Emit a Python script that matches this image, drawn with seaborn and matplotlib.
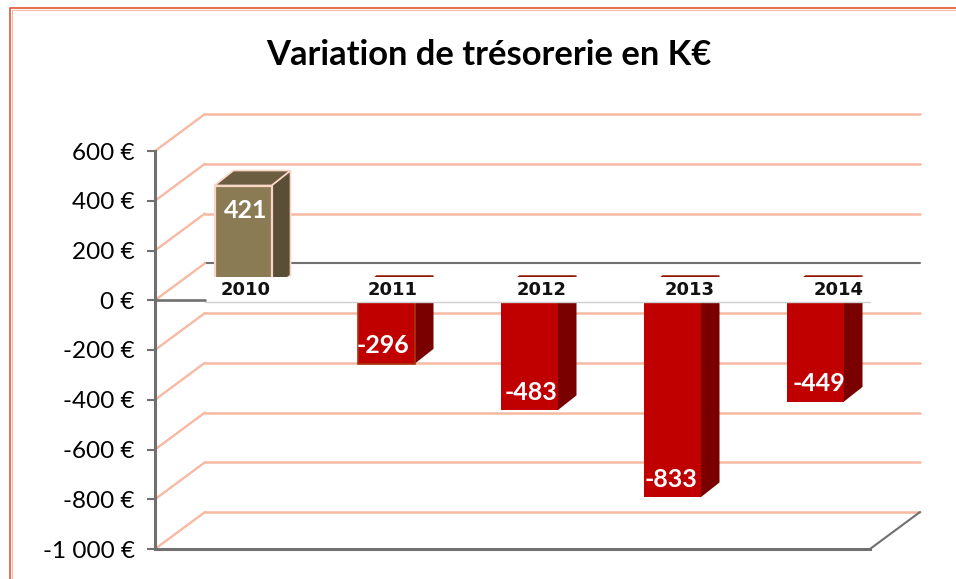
#! /usr/bin/env python
from matplotlib.patches import Polygon, Rectangle
from matplotlib.transforms import Affine2D
import matplotlib.pyplot as plt
import seaborn as sns

WIDTH, HEIGHT = 956, 579

years = ['2010', '2011', '2012', '2013', '2014']
values = [421, -296, -483, -833, -449]
y_ticks = [600, 400, 200, 0, -200, -400, -600, -800, -1000]
y_labels = ['600 €', '400 €', '200 €', '0 €', '-200 €', '-400 €', '-600 €', '-800 €', '-1 000 €']
title = 'Variation de trésorerie en K€'

SALMON = '#F7B9A3'
GREY = '#707070'


def shift(ax, dx, dy):
    # dx, dy in pixels, y going up
    return ax.transData + Affine2D().translate(dx, dy)


def main():
    sns.set_theme(style='white')
    plt.rcParams['font.family'] = ['Lato', 'DejaVu Sans']

    fig = plt.figure(figsize=(WIDTH / 100, HEIGHT / 100), dpi=100)
    ax = fig.add_axes([155 / WIDTH, (HEIGHT - 549) / HEIGHT, 715 / WIDTH, 398 / HEIGHT])
    ax.patch.set_alpha(0)

    px = Affine2D().scale(1, -1).translate(0, HEIGHT)  # image pixel coords

    palette = ['#8B7B55' if v > 0 else '#C00000' for v in values]
    sns.barplot(x=years, y=values, hue=years, palette=palette, legend=False,
                width=57 / 143, saturation=1, linewidth=0, ax=ax, zorder=3)
    ax.set_xlim(-0.5, 4.5)
    ax.set_ylim(-1000, 600)

    # back wall and left wall grid
    wall_x = 50 / 143
    wall_y = 37 / (398 / 1600)
    for tick in y_ticks:
        colour = GREY if tick == 0 else SALMON
        ax.plot([-0.5, 4.5], [tick, tick], color=colour, lw=1.5 if tick == 0 else 1.8,
                transform=shift(ax, 50, 37), clip_on=False, zorder=1)
        ax.plot([-0.5, -0.5 + wall_x], [tick, tick + wall_y], color=SALMON, lw=1.7,
                clip_on=False, zorder=2)
    ax.plot([4.5, 4.5 + wall_x], [-1000, -1000 + wall_y], color=GREY, lw=1.5,
            clip_on=False, zorder=2)

    # bars: move the front faces into the depth, add side and top faces
    depth_x = 19 / 143
    depth_y = 15 / (398 / 1600)
    moved = shift(ax, 16.5, 10)
    label_dx = [19, 13, 18, 15, 20]
    for i, (bar, value) in enumerate(zip(ax.patches, values)):
        bar.set_transform(moved)
        bar.set_clip_on(False)
        left = bar.get_x()
        right = left + bar.get_width()
        low, high = min(value, 0), max(value, 0)
        positive = value > 0
        side = '#5A4E36' if positive else '#7A0000'
        top = '#6B5D3F' if positive else '#8E1400'
        if positive:
            bar.set_edgecolor('#F9D6C8')
            bar.set_linewidth(1.6)
        elif i == 1:
            bar.set_edgecolor('#A5350F')
            bar.set_linewidth(1.2)
        edge = '#F9D6C8' if positive else 'none'
        ax.add_patch(Polygon([(right, low), (right + depth_x, low + depth_y),
                              (right + depth_x, high + depth_y), (right, high)],
                             facecolor=side, edgecolor=edge, lw=1.2, transform=moved,
                             clip_on=False, zorder=2.9))
        ax.add_patch(Polygon([(left, high), (left + depth_x, high + depth_y),
                              (right + depth_x, high + depth_y), (right, high)],
                             facecolor=top, edgecolor=edge, lw=1.2, transform=moved,
                             clip_on=False, zorder=2.9))
        ax.annotate(str(value), (i, value), xytext=(label_dx[i], -15 if positive else 28),
                    textcoords='offset pixels', ha='center', va='center', color='white',
                    fontsize=18, fontweight='bold', zorder=8)

    # white band holding the year labels
    ax.add_patch(Rectangle((205, 277), 665, 25, facecolor='white', edgecolor='none',
                           transform=px, clip_on=False, zorder=5))
    ax.plot([205, 870], [302, 302], color='#CFCFCF', lw=1, transform=px, clip_on=False, zorder=6)
    ax.plot([-0.5, -0.5 + wall_x], [0, 0], color=GREY, lw=1.9, clip_on=False, zorder=6)
    year_dx = [19.5, 23.5, 29.5, 34.5, 40.5]
    for i, year in enumerate(years):
        ax.annotate(year, (i, 0), xytext=(year_dx[i], 10), textcoords='offset pixels',
                    ha='center', va='center', color='#111111', fontsize=13,
                    fontweight='bold', family='DejaVu Sans', zorder=7)

    ax.set_xticks([])
    ax.set_xlabel('')
    ax.set_yticks(y_ticks, y_labels)
    ax.tick_params(axis='y', left=True, length=5.5, width=1.5, color=GREY, pad=9,
                   labelsize=17.5, labelcolor='black')
    for name, spine in ax.spines.items():
        spine.set_visible(name in ('left', 'bottom'))
        spine.set_color(GREY)
        spine.set_linewidth(2.2)
        spine.set_zorder(7)

    fig.text(489 / WIDTH, 1 - 55 / HEIGHT, title, ha='center', va='center',
             fontsize=24.8, fontweight='bold', color='black')

    # chart frame, only left and top show
    fig.add_artist(plt.Line2D([11.5, 11.5, 956], [579, 9.5, 9.5], color='#F7B9A3', lw=0.8, transform=px))
    fig.add_artist(plt.Line2D([10, 10, 956], [579, 8, 8], color='#E2562E', lw=1.2, transform=px))

    fig.savefig('out.png', dpi=100)


if __name__ == '__main__':
    main()
